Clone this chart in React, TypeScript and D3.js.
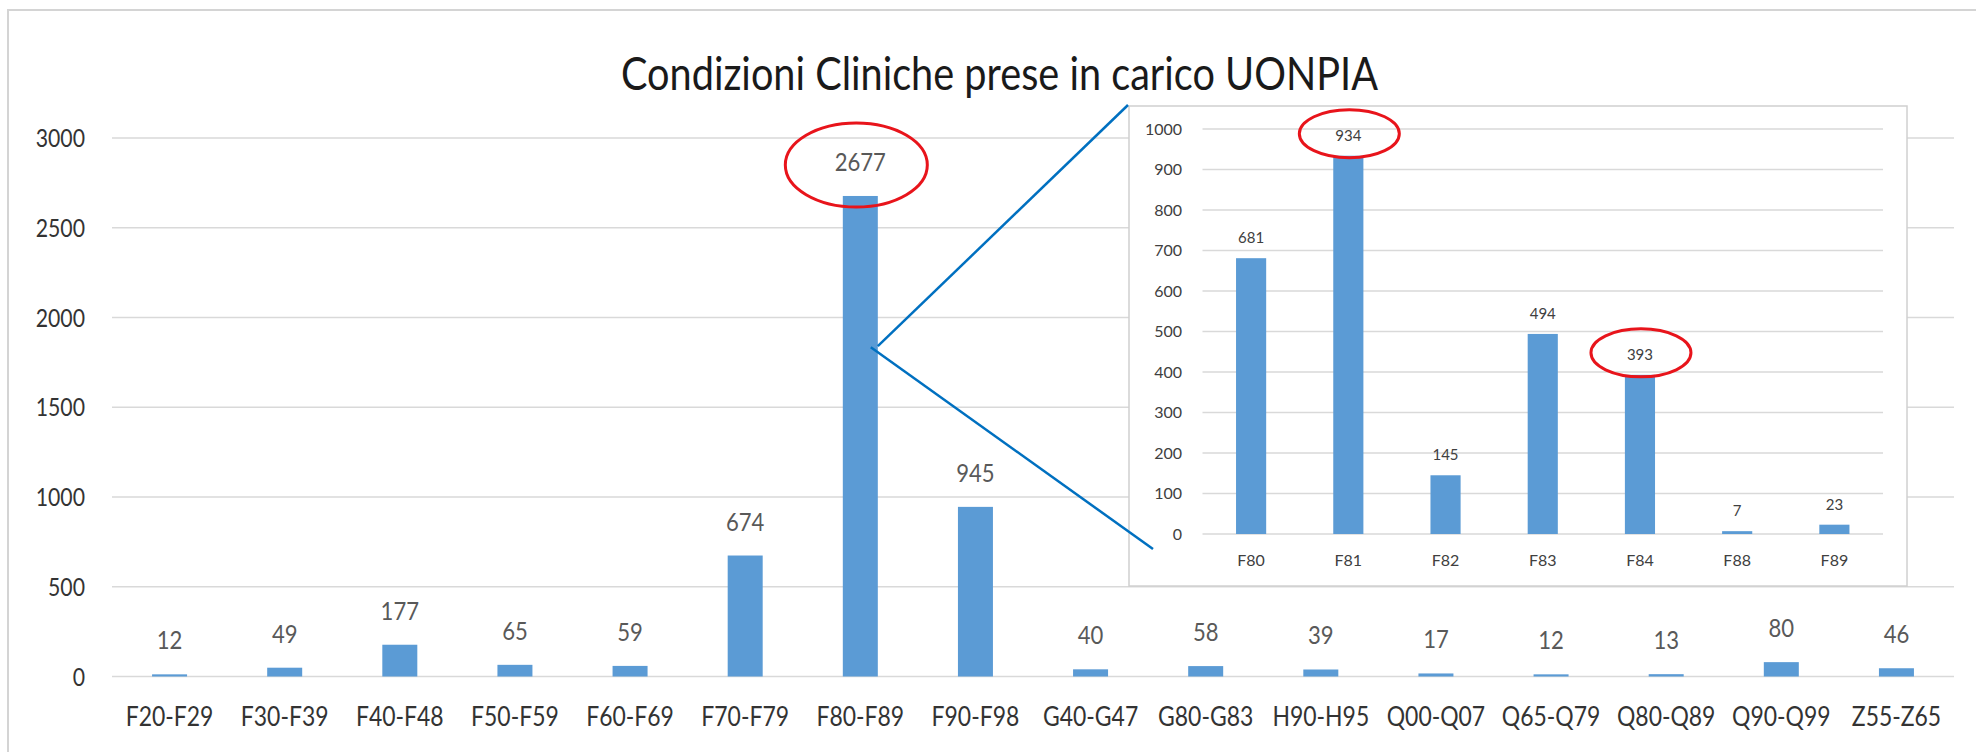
import React from "react";
import * as d3 from "d3";

const categories = [
  "F20-F29", "F30-F39", "F40-F48", "F50-F59", "F60-F69", "F70-F79", "F80-F89", "F90-F98",
  "G40-G47", "G80-G83", "H90-H95", "Q00-Q07", "Q65-Q79", "Q80-Q89", "Q90-Q99", "Z55-Z65",
];
const values = [12, 49, 177, 65, 59, 674, 2677, 945, 40, 58, 39, 17, 12, 13, 80, 46];
const yTicks = [0, 500, 1000, 1500, 2000, 2500, 3000];

const insetCategories = ["F80", "F81", "F82", "F83", "F84", "F88", "F89"];
const insetValues = [681, 934, 145, 494, 393, 7, 23];
const insetTicks = [0, 100, 200, 300, 400, 500, 600, 700, 800, 900, 1000];

const title = "Condizioni Cliniche prese in carico UONPIA";
const highlightMain = ["F80-F89"];
const highlightInset = ["F81", "F84"];
const zoomedCategory = "F80-F89";

const W = 1976;
const H = 752;
const FONT = "Lato, 'Open Sans', sans-serif";
const BLUE = "#5b9bd5";
const GRID = "#d9d9d9";
const SX = 0.85;

export default function App() {
  const x = d3.scaleBand<string>().domain(categories).range([112, 1954]).paddingInner(0.696).paddingOuter(0.348);
  const y = d3.scaleLinear().domain([0, 3000]).range([676.5, 138]);

  const inset = { x0: 1129, y0: 106, x1: 1907, y1: 586 };
  const xi = d3.scaleBand<string>().domain(insetCategories).range([1202.5, 1883]).paddingInner(0.69).paddingOuter(0.345);
  const yi = d3.scaleLinear().domain([0, 1000]).range([534, 129]);

  const bw = x.bandwidth();
  const bwi = xi.bandwidth();

  const zx = (x(zoomedCategory) as number);
  const anchorY = y(1840);

  return (
    <svg width={W} height={H} style={{ position: "absolute", left: 0, top: 0, display: "block", background: "#fff" }}>
      <rect x={0} y={0} width={W} height={H} fill="#fff" />
      {/* outer frame */}
      <rect x={8} y={10} width={W + 20} height={H + 20} fill="none" stroke="#d4d4d4" strokeWidth={2} />

      {/* title */}
      <text x={999.5} y={90} textAnchor="middle" fontFamily={FONT} fontSize={47} fill="#1a1a1a"
        textLength={757} lengthAdjust="spacingAndGlyphs">{title}</text>

      {/* main gridlines */}
      {yTicks.map((t) => (
        <line key={"g" + t} x1={112} x2={1954} y1={y(t)} y2={y(t)} stroke={GRID} strokeWidth={1.6} />
      ))}
      {yTicks.map((t) => (
        <text key={"yl" + t} transform={`translate(85,${y(t)}) scale(${SX},1)`} textAnchor="end" dy="0.36em"
          fontFamily={FONT} fontSize={25} fill="#333">{t}</text>
      ))}

      {/* main bars */}
      {categories.map((c, i) => (
        <rect key={"b" + c} x={x(c)} y={y(values[i])} width={bw} height={y(0) - y(values[i])} fill={BLUE} />
      ))}
      {categories.map((c, i) => (
        <text key={"v" + c} transform={`translate(${(x(c) as number) + bw / 2},${y(values[i]) - 25}) scale(${SX},1)`}
          textAnchor="middle" fontFamily={FONT} fontSize={26} fill="#595959">{values[i]}</text>
      ))}
      {categories.map((c) => (
        <text key={"x" + c} transform={`translate(${(x(c) as number) + bw / 2},726) scale(${SX},1)`}
          textAnchor="middle" fontFamily={FONT} fontSize={27} fill="#333">{c}</text>
      ))}

      {/* highlight ellipse on main */}
      {highlightMain.map((c) => {
        const i = categories.indexOf(c);
        return (
          <ellipse key={"e" + c} cx={(x(c) as number) + bw / 2 - 4} cy={y(values[i]) - 31} rx={71} ry={42}
            fill="none" stroke="#e8141b" strokeWidth={3} />
        );
      })}

      {/* inset */}
      <rect x={inset.x0} y={inset.y0} width={inset.x1 - inset.x0} height={inset.y1 - inset.y0} fill="#fff" stroke="#d0d0d0" strokeWidth={1.5} />
      {insetTicks.map((t) => (
        <line key={"ig" + t} x1={1202.5} x2={1883} y1={yi(t)} y2={yi(t)} stroke={GRID} strokeWidth={1.5} />
      ))}
      {insetTicks.map((t) => (
        <text key={"iyl" + t} x={1182} y={yi(t)} dy="0.36em" textAnchor="end" fontFamily={FONT} fontSize={16} fill="#404040">{t}</text>
      ))}
      {insetCategories.map((c, i) => (
        <rect key={"ib" + c} x={xi(c)} y={yi(insetValues[i])} width={bwi} height={yi(0) - yi(insetValues[i])} fill={BLUE} />
      ))}
      {insetCategories.map((c, i) => (
        <text key={"iv" + c} x={(xi(c) as number) + bwi / 2} y={yi(insetValues[i]) - 15} textAnchor="middle"
          fontFamily={FONT} fontSize={15} fill="#404040">{insetValues[i]}</text>
      ))}
      {insetCategories.map((c) => (
        <text key={"ix" + c} x={(xi(c) as number) + bwi / 2} y={566} textAnchor="middle"
          fontFamily={FONT} fontSize={16} fill="#404040">{c}</text>
      ))}
      {highlightInset.map((c) => {
        const i = insetCategories.indexOf(c);
        return (
          <ellipse key={"ie" + c} cx={(xi(c) as number) + bwi / 2 + 1} cy={yi(insetValues[i]) - 22} rx={50} ry={24}
            fill="none" stroke="#e8141b" strokeWidth={3} />
        );
      })}

      {/* zoom connector lines */}
      <line x1={zx + bw} y1={anchorY} x2={inset.x0 - 1} y2={inset.y0 - 1} stroke="#0070c0" strokeWidth={2.5} />
      <line x1={zx + bw - 7} y1={anchorY + 1} x2={1153} y2={549} stroke="#0070c0" strokeWidth={2.5} />
    </svg>
  );
}
